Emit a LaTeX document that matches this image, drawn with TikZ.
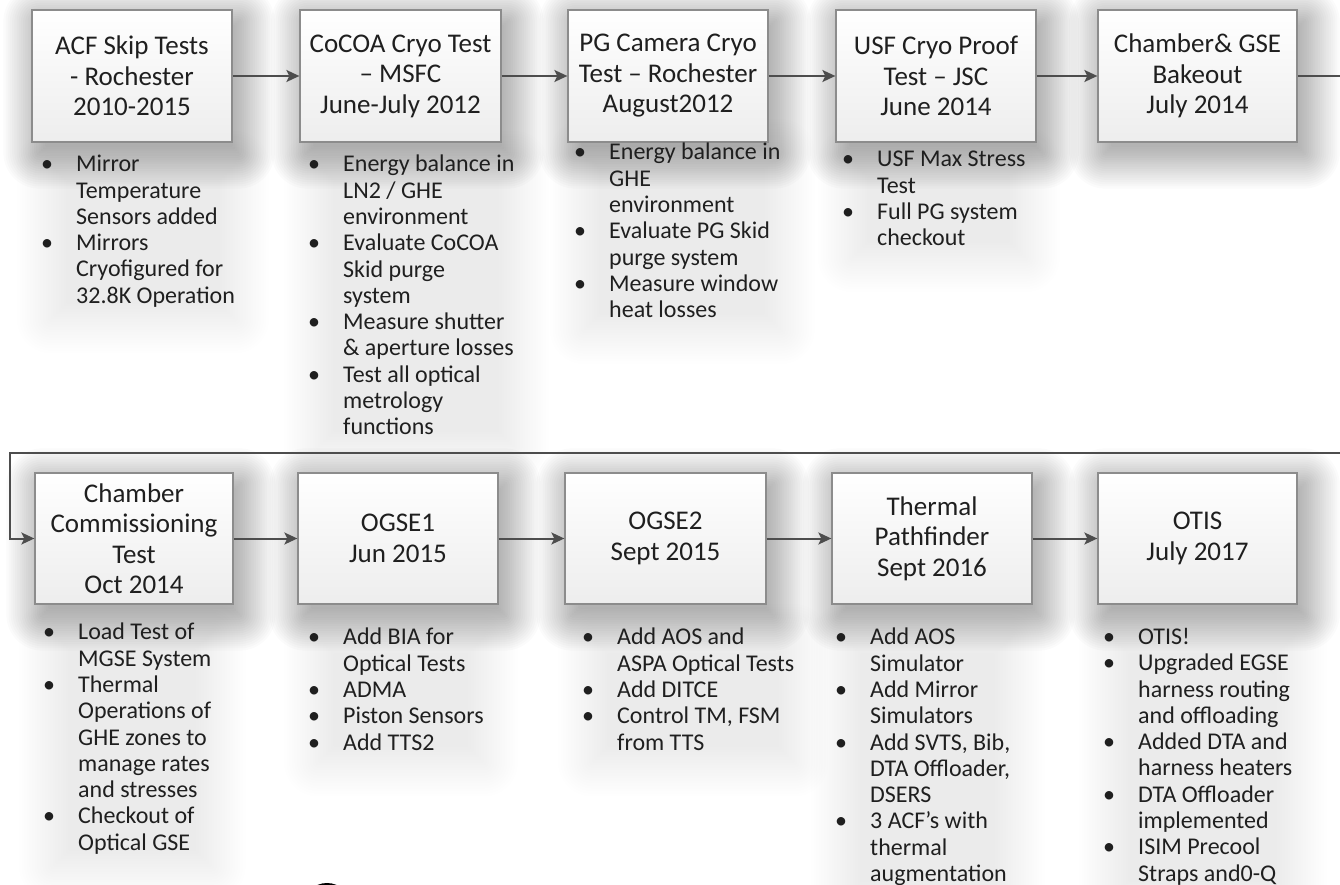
\documentclass[tikz,border=0pt]{standalone}
\usepackage{fontspec}
\setmainfont{Carlito}
\usetikzlibrary{arrows.meta,calc}
\pgfdeclarelayer{background}
\pgfsetlayers{background,main}
\definecolor{txt}{HTML}{1F1F1F}
\definecolor{edge}{HTML}{8C8C8C}
\definecolor{arr}{HTML}{4D4D4D}
\tikzset{
 stage/.style={draw=edge, line width=1.3pt, top color=white, bottom color=black!7,
   minimum width=200pt, minimum height=132pt, inner sep=0pt, align=center,
   font=\fontsize{27}{30.5}\selectfont, text=txt},
 items/.style={anchor=north west, inner sep=0pt, align=left,
   font=\fontsize{24}{26.3}\selectfont, text=txt},
 flow/.style={draw=arr, line width=2pt, -{Stealth[length=13pt,width=12pt,inset=3pt]}},
 plain/.style={draw=arr, line width=2pt},
}
\newcommand{\itm}{\makebox[35pt][l]{\textbullet}}
\newcommand{\cnt}{\hspace*{35pt}}
\begin{document}
\begin{tikzpicture}[x=1pt,y=-1pt]
\useasboundingbox (0,0) rectangle (1340,885);
% stages, top row
\node[stage] (b1) at (132,76) {ACF Skip Tests\\- Rochester\\2010-2015};
\node[stage, minimum width=201pt] (b2) at (400.5,76) {CoCOA Cryo Test\\– MSFC\\June-July 2012};
\node[stage] (b3) at (668,76) {PG Camera Cryo\\Test – Rochester\\August2012};
\node[stage] (b4) at (936,76) {USF Cryo Proof\\Test – JSC\\June 2014};
\node[stage, minimum width=199pt] (b5) at (1197.5,76) {Chamber\& GSE\\Bakeout\\July 2014};
% stages, bottom row
\node[stage, minimum width=198pt, minimum height=131pt] (b6) at (134,538.5) {Chamber\\Commissioning\\Test\\Oct 2014};
\node[stage, minimum height=131pt] (b7) at (398,538.5) {OGSE1\\Jun 2015};
\node[stage, minimum width=201pt, minimum height=131pt] (b8) at (665.5,538.5) {OGSE2\\Sept 2015};
\node[stage, minimum height=131pt] (b9) at (932,538.5) {Thermal\\Pathfinder\\Sept 2016};
\node[stage, minimum width=199pt, minimum height=131pt] (b10) at (1197.5,538.5) {OTIS\\July 2017};
% bullet lists
\node[items] (l1) at (41,155) {\itm Mirror\\ \cnt Temperature\\ \cnt Sensors added\\ \itm Mirrors\\ \cnt Cryofigured for\\ \cnt 32.8K Operation};
\node[items] (l2) at (308,155) {\itm Energy balance in\\ \cnt LN2 / GHE\\ \cnt environment\\ \itm Evaluate CoCOA\\ \cnt Skid purge\\ \cnt system\\ \itm Measure shutter\\ \cnt \& aperture losses\\ \itm Test all optical\\ \cnt metrology\\ \cnt functions};
\node[items] (l3) at (574,143) {\itm Energy balance in\\ \cnt GHE\\ \cnt environment\\ \itm Evaluate PG Skid\\ \cnt purge system\\ \itm Measure window\\ \cnt heat losses};
\node[items] (l4) at (842,151) {\itm USF Max Stress\\ \cnt Test\\ \itm Full PG system\\ \cnt checkout};
\node[items] (l6) at (43,623) {\itm Load Test of\\ \cnt MGSE System\\ \itm Thermal\\ \cnt Operations of\\ \cnt GHE zones to\\ \cnt manage rates\\ \cnt and stresses\\ \itm Checkout of\\ \cnt Optical GSE};
\node[items] (l7) at (308,628) {\itm Add BIA for\\ \cnt Optical Tests\\ \itm ADMA\\ \itm Piston Sensors\\ \itm Add TTS2};
\node[items] (l8) at (582,628) {\itm Add AOS and\\ \cnt ASPA Optical Tests\\ \itm Add DITCE\\ \itm Control TM, FSM\\ \cnt from TTS};
\node[items] (l9) at (835,628) {\itm Add AOS\\ \cnt Simulator\\ \itm Add Mirror\\ \cnt Simulators\\ \itm Add SVTS, Bib,\\ \cnt DTA Offloader,\\ \cnt DSERS\\ \itm 3 ACF's with\\ \cnt thermal\\ \cnt augmentation};
\node[items] (l10) at (1103,628) {\itm OTIS!\\ \itm Upgraded EGSE\\ \cnt harness routing\\ \cnt and offloading\\ \itm Added DTA and\\ \cnt harness heaters\\ \itm DTA Offloader\\ \cnt implemented\\ \itm ISIM Precool\\ \cnt Straps and0-Q};
% soft shadows behind boxes and lists
\begin{pgfonlayer}{background}
\fill[white] (0,0) rectangle (1340,885);
\foreach \b in {l1,l2,l3,l4,l6,l7,l8,l9,l10} {
  \foreach \k in {0,...,19} {
    \pgfmathsetmacro\e{34-\k*2.6}
    \pgfmathsetmacro\r{max(\e,1)}
    \fill[black, opacity=0.0045, rounded corners=\r pt]
      ($(\b.north west)+(10-\e,10-\e)$) rectangle ($(\b.south east)+(\e,12+\e)$);
  }
}
\foreach \b in {b1,b2,b3,b4,b5,b6,b7,b8,b9,b10} {
  \foreach \k in {0,...,19} {
    \pgfmathsetmacro\e{36-\k*2.2}
    \pgfmathsetmacro\r{max(\e,1)}
    \fill[black, opacity=0.016, rounded corners=\r pt]
      ($(\b.north west)+(8-\e,12-\e)$) rectangle ($(\b.south east)+(6+\e,10+\e)$);
  }
}
\end{pgfonlayer}
% connectors
\coordinate (rt) at (1345,76);
\coordinate (rb) at (1345,453);
\coordinate (lb) at (10,453);
\draw[flow] (b1) -- (b2);
\draw[flow] (b2) -- (b3);
\draw[flow] (b3) -- (b4);
\draw[flow] (b4) -- (b5);
\draw[plain] (b5.east) -- (rt);
\draw[flow] (rb) -- (lb) |- (b6.west);
\draw[flow] (b6) -- (b7);
\draw[flow] (b7) -- (b8);
\draw[flow] (b8) -- (b9);
\draw[flow] (b9) -- (b10);
% partial dark ring at bottom edge
\coordinate (ring) at (327,907);
\draw[black, line width=4pt] (ring) circle (22);
\end{tikzpicture}
\end{document}
